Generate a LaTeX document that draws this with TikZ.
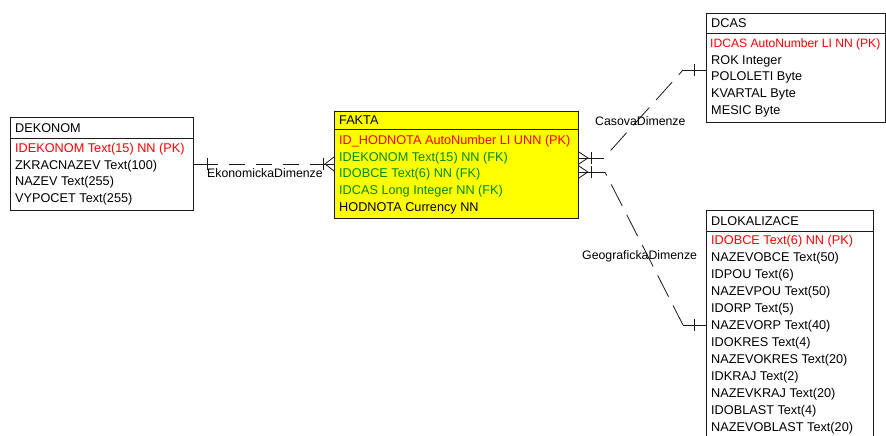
\documentclass[tikz,border=0pt]{standalone}
\usepackage{fontspec}
\setmainfont{Liberation Sans}
\usetikzlibrary{calc}
\definecolor{ERYellow}{HTML}{FFFF00}
\definecolor{ERRed}{HTML}{FF0000}
\definecolor{ERGreen}{HTML}{008A00}
\definecolor{ERLine}{HTML}{1A1A1A}

\tikzset{
  tbl/.style={draw=ERLine,line width=0.9pt,anchor=north west,inner sep=0pt},
  fld/.style={anchor=base west,inner sep=0pt,font=\fontsize{12.7}{14}\selectfont},
  rlbl/.style={anchor=base west,inner sep=0pt,font=\fontsize{12.3}{14}\selectfont},
  rel/.style={draw=ERLine,line width=0.8pt},
  reldash/.style={rel,dash pattern=on 16pt off 11pt,dash phase=16pt},
  diagdash/.style={rel,dash pattern=on 24pt off 10pt,dash phase=24pt},
}

\begin{document}
\begin{tikzpicture}[x=1pt,y=-1pt]
\useasboundingbox (0,0) rectangle (886,436);
\clip (0,0) rectangle (886,436);
\fill[white] (0,0) rectangle (886,436);

% DEKONOM
\node[tbl,fill=white,minimum width=183pt,minimum height=93pt] (dekonom) at (10,117) {};
\draw[ERLine,line width=0.9pt] (10,138) -- (193,138);
\node[fld] (dekonom-h) at (15,132.4) {DEKONOM};
\node[fld,text=ERRed] (dekonom-1) at (15,152.4) {IDEKONOM Text(15) NN (PK)};
\node[fld] (dekonom-2) at (15,169.1) {ZKRACNAZEV Text(100)};
\node[fld] (dekonom-3) at (15,185.8) {NAZEV Text(255)};
\node[fld] (dekonom-4) at (15,202.5) {VYPOCET Text(255)};

% FAKTA
\node[tbl,fill=ERYellow,minimum width=244pt,minimum height=107pt] (fakta) at (334,111) {};
\draw[ERLine,line width=0.9pt] (334,129) -- (578,129);
\node[fld] (fakta-h) at (339,124.4) {FAKTA};
\node[fld,text=ERRed] (fakta-1) at (339,144.4) {ID\_HODNOTA AutoNumber LI UNN (PK)};
\node[fld,text=ERGreen] (fakta-2) at (339,161.15) {IDEKONOM Text(15) NN (FK)};
\node[fld,text=ERGreen] (fakta-3) at (339,177.9) {IDOBCE Text(6) NN (FK)};
\node[fld,text=ERGreen] (fakta-4) at (339,194.65) {IDCAS Long Integer NN (FK)};
\node[fld] (fakta-5) at (339,211.4) {HODNOTA Currency NN};

% DCAS
\node[tbl,fill=white,minimum width=179pt,minimum height=109pt] (dcas) at (706,13) {};
\draw[ERLine,line width=0.9pt] (706,33) -- (885,33);
\node[fld] (dcas-h) at (711,27.4) {DCAS};
\node[fld,text=ERRed,font=\fontsize{12.1}{14}\selectfont] (dcas-1) at (710,47.4) {IDCAS AutoNumber LI NN (PK)};
\node[fld] (dcas-2) at (711,64.15) {ROK Integer};
\node[fld] (dcas-3) at (711,80.9) {POLOLETI Byte};
\node[fld] (dcas-4) at (711,97.65) {KVARTAL Byte};
\node[fld] (dcas-5) at (711,114.4) {MESIC Byte};

% DLOKALIZACE
\node[tbl,fill=white,minimum width=167pt,minimum height=240pt] (dlok) at (706,210) {};
\draw[ERLine,line width=0.9pt] (706,231) -- (873,231);
\node[fld] (dlok-h) at (711,225.4) {DLOKALIZACE};
\node[fld,text=ERRed] (dlok-1) at (711,244.4) {IDOBCE Text(6) NN (PK)};
\node[fld] (dlok-2) at (711,261.4) {NAZEVOBCE Text(50)};
\node[fld] (dlok-3) at (711,278.4) {IDPOU Text(6)};
\node[fld] (dlok-4) at (711,295.4) {NAZEVPOU Text(50)};
\node[fld] (dlok-5) at (711,312.4) {IDORP Text(5)};
\node[fld] (dlok-6) at (711,329.4) {NAZEVORP Text(40)};
\node[fld] (dlok-7) at (711,346.4) {IDOKRES Text(4)};
\node[fld] (dlok-8) at (711,363.4) {NAZEVOKRES Text(20)};
\node[fld] (dlok-9) at (711,380.4) {IDKRAJ Text(2)};
\node[fld] (dlok-10) at (711,397.4) {NAZEVKRAJ Text(20)};
\node[fld] (dlok-11) at (711,414.4) {IDOBLAST Text(4)};
\node[fld] (dlok-12) at (711,431.4) {NAZEVOBLAST Text(20)};

% EkonomickaDimenze
\coordinate (ek-pk) at (dekonom.east);
\coordinate (ek-fk) at (dekonom.east -| fakta.west);
\draw[rel] (ek-pk) -- ($(ek-pk)+(24,0)$);
\draw[reldash] ($(ek-pk)+(24,0)$) -- ($(ek-fk)+(-14,0)$);
\draw[rel] ($(ek-fk)+(-14,0)$) -- (ek-fk);
\draw[rel] ($(ek-pk)+(13,-6)$) -- ++(0,12);
\draw[rel] ($(ek-fk)+(-11,-6)$) -- ++(0,12);
\draw[rel] ($(ek-fk)+(0,-7)$) -- ++(-9,7) -- ++(9,7);
\node[rlbl] (ek-lbl) at (207,177.4) {EkonomickaDimenze};

% CasovaDimenze
\coordinate (cas-fk) at ($(fakta.north east)+(0,47)$);
\coordinate (cas-pk) at ($(dcas.north west)+(0,57)$);
\coordinate (cas-b1) at ($(cas-fk)+(25,0)$);
\coordinate (cas-b2) at ($(cas-pk)+(-23,0)$);
\draw[rel] (cas-fk) -- (cas-b1);
\draw[diagdash] (cas-b1) -- (cas-b2);
\draw[rel] (cas-b2) -- (cas-pk);
\draw[rel] ($(cas-fk)+(0,-6)$) -- ++(9,6) -- ++(-9,6);
\draw[rel] ($(cas-fk)+(12,-6)$) -- ++(0,12);
\draw[rel] ($(cas-pk)+(-12,-6)$) -- ++(0,12);
\node[rlbl] (cas-lbl) at (595,125.4) {CasovaDimenze};

% GeografickaDimenze
\coordinate (geo-fk) at ($(fakta.north east)+(0,61)$);
\coordinate (geo-pk) at ($(dlok.north west)+(0,115)$);
\coordinate (geo-b1) at ($(geo-fk)+(26,0)$);
\coordinate (geo-b2) at ($(geo-pk)+(-23,0)$);
\draw[rel] (geo-fk) -- (geo-b1);
\draw[diagdash,dash phase=20pt] (geo-b1) -- (geo-b2);
\draw[rel] (geo-b2) -- (geo-pk);
\draw[rel] ($(geo-fk)+(0,-6)$) -- ++(9,6) -- ++(-9,6);
\draw[rel] ($(geo-fk)+(12,-6)$) -- ++(0,12);
\draw[rel] ($(geo-pk)+(-12,-6)$) -- ++(0,12);
\node[rlbl] (geo-lbl) at (582,259.4) {GeografickaDimenze};
\end{tikzpicture}
\end{document}
